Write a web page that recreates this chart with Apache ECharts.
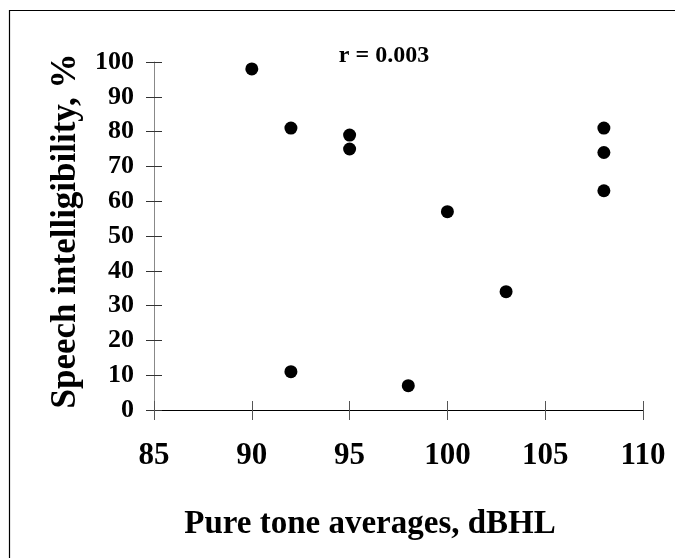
<!DOCTYPE html>
<html>
<head>
<meta charset="utf-8">
<script src="https://cdn.jsdelivr.net/npm/echarts@6/dist/echarts.min.js"></script>
<style>
  html, body { margin: 0; padding: 0; background: #fff; }
  #main { width: 675px; height: 558px; }
</style>
</head>
<body>
<div id="main"></div>
<script>
// pure tone averages (dBHL) and speech intelligibility (%)
const pta = [90, 92, 92, 95, 95, 98, 100, 103, 108, 108, 108];
const intelligibility = [98, 81, 11, 79, 75, 7, 57, 34, 81, 74, 63];

const xTitle = "Pure tone averages, dBHL";
const yTitle = "Speech intelligibility, %";
const note = "r = 0.003";

const font = "Liberation Serif";

const chart = echarts.init(document.getElementById("main"));

const points = pta.map((x, i) => [x, intelligibility[i]]);

const options = {
  animation: false,
  grid: { left: 154, top: 62, right: 32, bottom: 148 },
  xAxis: [
    {
      type: "value",
      min: 85,
      max: 110,
      interval: 5,
      position: "bottom",
      splitLine: { show: false },
      axisLine: { show: true, lineStyle: { color: "#000", width: 1 } },
      axisTick: { show: true, length: 10, lineStyle: { color: "#555" } },
      axisLabel: {
        margin: 30,
        fontFamily: font,
        fontWeight: "bold",
        fontSize: 31,
        color: "#000",
      },
    },
    {
      // inner half of the crossing ticks
      type: "value",
      min: 85,
      max: 110,
      interval: 5,
      position: "bottom",
      splitLine: { show: false },
      axisLine: { show: false },
      axisTick: { show: true, inside: true, length: 9, lineStyle: { color: "#555" } },
      axisLabel: { show: false },
    },
  ],
  yAxis: [
    {
      type: "value",
      min: 0,
      max: 100,
      interval: 10,
      position: "left",
      splitLine: { show: false },
      axisLine: { show: true, lineStyle: { color: "#888", width: 1 } },
      axisTick: { show: true, length: 8, lineStyle: { color: "#333" } },
      axisLabel: {
        margin: 20,
        fontFamily: font,
        fontWeight: "bold",
        fontSize: 26,
        color: "#000",
      },
    },
    {
      type: "value",
      min: 0,
      max: 100,
      interval: 10,
      position: "left",
      splitLine: { show: false },
      axisLine: { show: false },
      axisTick: { show: true, inside: true, length: 8, lineStyle: { color: "#333" } },
      axisLabel: { show: false },
    },
  ],
  series: [
    {
      type: "scatter",
      data: points,
      symbol: "circle",
      symbolSize: 13,
      itemStyle: { color: "#000", opacity: 1 },
    },
  ],
  graphic: [
    {
      type: "rect",
      shape: { x: 9.5, y: 10.5, width: 700, height: 600 },
      style: { fill: "none", stroke: "#000", lineWidth: 1.2 },
      silent: true,
    },
    {
      type: "text",
      x: 384,
      y: 56,
      style: {
        text: note,
        font: "bold 24px " + font,
        fill: "#000",
        align: "center",
        verticalAlign: "middle",
      },
    },
    {
      type: "text",
      x: 370,
      y: 524,
      style: {
        text: xTitle,
        font: "bold 33px " + font,
        fill: "#000",
        align: "center",
        verticalAlign: "middle",
      },
    },
    {
      type: "text",
      x: 66,
      y: 231,
      rotation: Math.PI / 2,
      style: {
        text: yTitle,
        font: "bold 35px " + font,
        fill: "#000",
        align: "center",
        verticalAlign: "middle",
      },
    },
  ],
};

chart.setOption(options);
</script>
</body>
</html>
